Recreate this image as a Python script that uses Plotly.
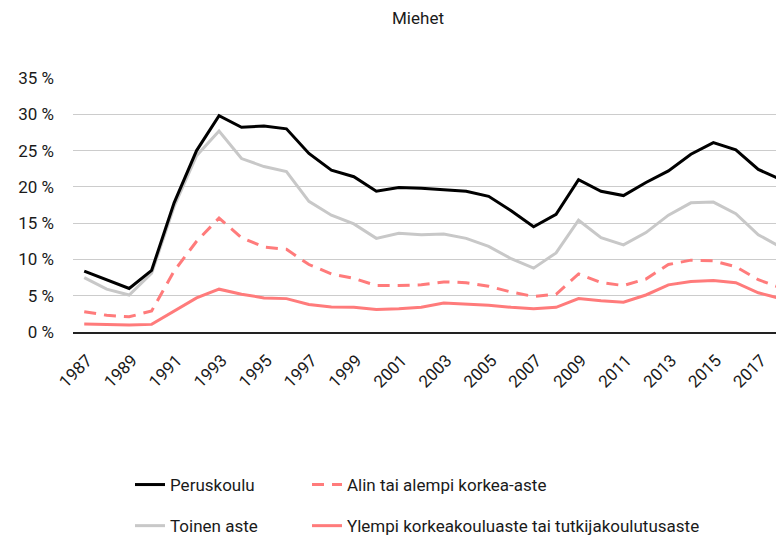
import plotly.graph_objects as go

years = list(range(1987, 2019))
tick_years = list(range(1987, 2018, 2))
tick_labels = [str(y) for y in tick_years]
y_ticks = [0, 5, 10, 15, 20, 25, 30, 35]
y_tick_labels = [f"{v} %" for v in y_ticks]

peruskoulu = [8.4, 7.2, 6.0, 8.5, 17.8, 25.0, 29.8, 28.2, 28.4, 28.0, 24.6, 22.3, 21.4, 19.4, 19.9, 19.8,
              19.6, 19.4, 18.7, 16.7, 14.5, 16.2, 21.0, 19.4, 18.8, 20.6, 22.2, 24.5, 26.1, 25.1, 22.4, 21.0]
toinen_aste = [7.5, 5.9, 5.1, 8.1, 17.3, 24.3, 27.7, 23.9, 22.8, 22.1, 18.0, 16.1, 14.9, 12.9, 13.6, 13.4,
               13.5, 12.9, 11.8, 10.1, 8.8, 10.9, 15.4, 13.0, 12.0, 13.7, 16.1, 17.8, 17.9, 16.3, 13.4, 11.7]
alin_korkea = [2.8, 2.3, 2.1, 2.9, 8.4, 12.5, 15.7, 13.0, 11.7, 11.4, 9.3, 8.0, 7.4, 6.4, 6.4, 6.5,
               6.9, 6.8, 6.3, 5.5, 4.9, 5.2, 8.0, 6.8, 6.4, 7.3, 9.3, 9.9, 9.8, 9.0, 7.2, 6.1]
ylempi_korkea = [1.1, 1.0, 0.95, 1.05, 2.9, 4.7, 5.9, 5.2, 4.7, 4.6, 3.8, 3.45, 3.4, 3.1, 3.2, 3.4,
                 4.0, 3.9, 3.7, 3.4, 3.2, 3.4, 4.6, 4.3, 4.1, 5.1, 6.5, 6.95, 7.1, 6.8, 5.4, 4.6]

FONT = "Roboto"
TXT = "#1a1a1a"
W, H = 784, 542
ML, MR, MT, MB = 65, 0, 70, 218
PW, PH = W - ML - MR, H - MT - MB

fig = go.Figure()
fig.add_trace(go.Scatter(x=years, y=ylempi_korkea, name="Ylempi korkeakouluaste tai tutkijakoulutusaste",
                         mode="lines", line=dict(color="#ff7b7b", width=3), legend="legend2",
                         legendgroup="d", legendrank=2))
fig.add_trace(go.Scatter(x=years, y=alin_korkea, name="Alin tai alempi korkea-aste", mode="lines",
                         line=dict(color="#ff7b7b", width=3, dash="12px,8px"), legend="legend2",
                         legendgroup="c", legendrank=1))
fig.add_trace(go.Scatter(x=years, y=toinen_aste, name="Toinen aste", mode="lines",
                         line=dict(color="#c8c8c8", width=3), legend="legend", legendgroup="b", legendrank=2))
fig.add_trace(go.Scatter(x=years, y=peruskoulu, name="Peruskoulu", mode="lines",
                         line=dict(color="#000000", width=3), legend="legend", legendgroup="a", legendrank=1))


def px_x(x):
    return (x - ML) / PW


def px_y(y):
    return (H - MB - y) / PH


leg_common = dict(orientation="v", yanchor="top", xanchor="left",
                  font=dict(family=FONT, size=17, color=TXT), tracegroupgap=16,
                  bgcolor="rgba(0,0,0,0)", traceorder="grouped")

fig.update_layout(
    width=W, height=H,
    margin=dict(l=ML, r=MR, t=MT, b=MB, autoexpand=False),
    paper_bgcolor="white", plot_bgcolor="white",
    title=dict(text="Miehet", x=410 / W, xanchor="center", y=1 - 10 / H, yanchor="middle",
               font=dict(family=FONT, size=17, color=TXT)),
    showlegend=True,
    legend=dict(x=px_x(122), y=px_y(459), **leg_common),
    legend2=dict(x=px_x(299), y=px_y(459), **leg_common),
    xaxis=dict(range=[1986.5, 2018.5], tickmode="array", tickvals=tick_years, ticktext=tick_labels,
               tickangle=-45, showgrid=False, zeroline=False, showline=True, linecolor="#222222",
               linewidth=1.5, ticks="", tickfont=dict(family=FONT, size=17, color=TXT), fixedrange=True,
               ticklabelstandoff=10, ticklabelshift=3, automargin=False),
    yaxis=dict(range=[0, 35], tickmode="array", tickvals=y_ticks, ticktext=y_tick_labels, showgrid=True,
               gridcolor="#cccccc", gridwidth=1, zeroline=False, showline=False, ticks="",
               ticklabelstandoff=18, tickfont=dict(family=FONT, size=17, color=TXT), fixedrange=True,
               automargin=False),
)

fig.write_html("out.html")
